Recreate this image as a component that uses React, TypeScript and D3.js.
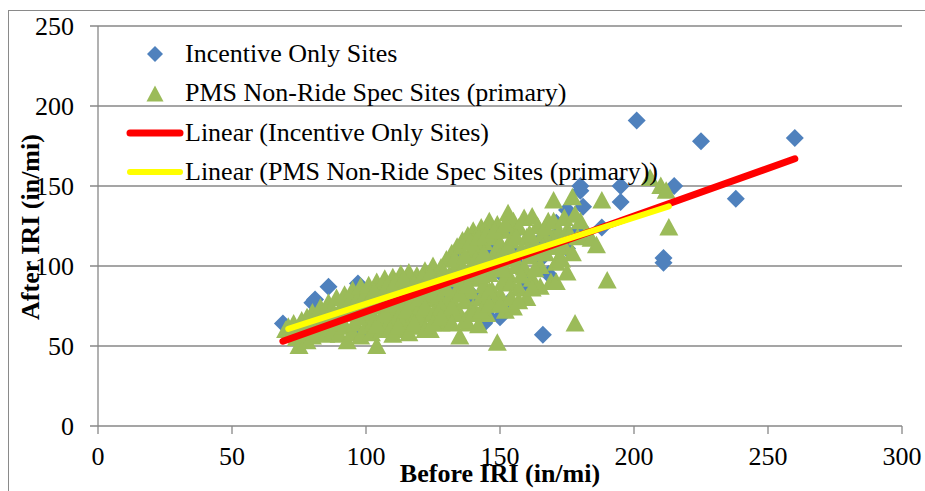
import React from "react";
import * as d3 from "d3";

// Before IRI / After IRI (in/mi)
const incentiveSites: [number, number][] = [
  [69, 64], [80, 77], [81, 79], [86, 87], [97, 89], [97, 57], [100, 72], [105, 80], [108, 66],
  [112, 85], [115, 75], [117, 72], [118, 90], [120, 70], [122, 82], [125, 95], [127, 66],
  [128, 78], [130, 68], [131, 72], [132, 88], [134, 104], [135, 97], [138, 92], [139, 83],
  [140, 79], [142, 100], [143, 108], [144, 64], [145, 77], [145, 72], [146, 68], [146, 118],
  [147, 112], [148, 110], [150, 68], [150, 96], [153, 77], [154, 110], [154, 121], [155, 120],
  [157, 100], [160, 89], [160, 91], [162, 108], [165, 104], [165, 116], [166, 57], [168, 95],
  [170, 118], [171, 127], [175, 135], [175, 111], [179, 122], [180, 147], [180, 150],
  [181, 137], [180, 124], [188, 124], [195, 150], [195, 140], [201, 191], [211, 105],
  [211, 102], [215, 150], [225, 178], [238, 142], [260, 180],
];

const pmsSites: [number, number][] = [
  [70, 60], [71, 62], [72, 57], [73, 64], [74, 55], [75, 50], [75, 62], [76, 66], [77, 58],
  [78, 68], [78, 53], [79, 62], [80, 56], [80, 71], [81, 65], [82, 59], [83, 74], [84, 62],
  [84, 69], [85, 57], [86, 77], [87, 64], [87, 72], [88, 60], [89, 80], [90, 57], [90, 68],
  [91, 75], [92, 62], [92, 82], [93, 53], [93, 70], [94, 78], [95, 58], [95, 85], [96, 64],
  [96, 73], [97, 80], [98, 56], [98, 87], [99, 68], [99, 76], [100, 62], [100, 83], [101, 88],
  [102, 58], [102, 71], [103, 79], [103, 66], [104, 50], [104, 90], [105, 75], [105, 84],
  [106, 60], [106, 69], [107, 92], [108, 63], [108, 78], [109, 86], [109, 72], [110, 57],
  [110, 93], [111, 66], [111, 81], [112, 75], [112, 89], [113, 60], [113, 95], [114, 70],
  [114, 84], [115, 63], [115, 78], [116, 91], [116, 96], [117, 67], [117, 86], [118, 74],
  [118, 80], [119, 62], [119, 94], [120, 70], [120, 88], [121, 77], [121, 65], [122, 83],
  [122, 97], [123, 72], [123, 91], [124, 60], [124, 79], [125, 86], [125, 100], [126, 68],
  [126, 94], [127, 75], [127, 82], [128, 64], [128, 99], [129, 88], [130, 72], [130, 104],
  [131, 66], [131, 80], [132, 92], [132, 108], [133, 76], [133, 98], [134, 85], [134, 112],
  [135, 56], [135, 70], [135, 102], [136, 90], [136, 116], [137, 78], [138, 64], [138, 96],
  [138, 119], [139, 84], [139, 108], [140, 74], [140, 122], [141, 92], [141, 112], [142, 63],
  [142, 100], [143, 80], [143, 124], [144, 88], [144, 115], [145, 70], [145, 104], [146, 128],
  [146, 95], [147, 85], [147, 118], [148, 76], [148, 108], [149, 52], [149, 126], [149, 98],
  [150, 82], [150, 114], [151, 90], [151, 122], [152, 72], [152, 104], [153, 133], [153, 95],
  [154, 89], [154, 116], [155, 74], [155, 128], [156, 100], [157, 124], [157, 86], [158, 110],
  [159, 99], [159, 130], [160, 80], [160, 118], [161, 106], [162, 131], [162, 92], [163, 114],
  [164, 125], [165, 87], [165, 100], [166, 120], [167, 108], [168, 128], [169, 90], [170, 141],
  [170, 118], [171, 102], [171, 90], [172, 121], [172, 105], [173, 104], [174, 112], [175, 122],
  [175, 96], [177, 143], [177, 108], [178, 64], [179, 118], [180, 128], [182, 120], [184, 117],
  [186, 113], [188, 141], [190, 91], [206, 155], [210, 150], [212, 147], [213, 124],
  [88, 70], [91, 66], [94, 72], [97, 68], [100, 74], [101, 78], [103, 84], [104, 63], [106, 80],
  [107, 70], [108, 88], [110, 76], [111, 90], [112, 68], [113, 84], [114, 92], [115, 72],
  [116, 82], [117, 78], [118, 89], [119, 70], [120, 80], [121, 93], [122, 74], [123, 85],
  [124, 95], [125, 70], [126, 84], [127, 92], [128, 74], [129, 96], [130, 86], [131, 94],
  [132, 74], [133, 104], [134, 92], [135, 82], [136, 98], [137, 106], [138, 88], [139, 115],
  [140, 98], [141, 104], [142, 118], [143, 94], [144, 108], [145, 120], [146, 84], [147, 102],
  [148, 122], [150, 106], [151, 98], [152, 126], [153, 112], [155, 106], [156, 118], [158, 94],
  [160, 110], [161, 120], [163, 98], [164, 108], [166, 112], [167, 124], [169, 112], [170, 128],
  [172, 112], [174, 130], [176, 120], [178, 132], [109, 60], [112, 62], [116, 58], [118, 64],
  [122, 60], [125, 64], [128, 68], [132, 64], [137, 66], [140, 70], [143, 72], [146, 76],
  [150, 76], [154, 80], [157, 78], [162, 86],
];

// linear trend lines: [slope, intercept, xStart, xEnd]
const incentiveTrend = [0.597, 11.8, 69, 260];
const pmsTrend = [0.54, 22.3, 71, 213];

const xTicks = [0, 50, 100, 150, 200, 250, 300];
const yTicks = [0, 50, 100, 150, 200, 250];

const legendLabels = [
  "Incentive Only Sites",
  "PMS Non-Ride Spec Sites (primary)",
  "Linear (Incentive Only Sites)",
  "Linear (PMS Non-Ride Spec Sites (primary))",
];

const BLUE = "#4F81BD";
const GREEN = "#9BBB59";
const RED = "#FF0000";
const YELLOW = "#FFFF00";
const GRID = "#878787";
const serif: React.CSSProperties = { fontFamily: "'Liberation Serif', 'Times New Roman', serif" };

const diamond = "M0,-9L9,0L0,9L-9,0Z";
const triangle = "M0,-9.5L9.5,8L-9.5,8Z";

const App = (): React.JSX.Element => {
  const width = 925;
  const height = 491;
  const x = d3.scaleLinear([0, 300], [98, 902]);
  const y = d3.scaleLinear([0, 250], [426, 26]);

  const trendLine = (t: number[]) => {
    const pts: [number, number][] = [t[2], t[3]].map((v) => [v, t[0] * v + t[1]]);
    return d3.line<[number, number]>((d) => x(d[0]), (d) => y(d[1]))(pts) as string;
  };

  return (
    <svg width={width} height={height} style={{ position: "absolute", left: 0, top: 0 }}>
      <rect x={0} y={0} width={width} height={height} fill="white" />
      <rect x={8.5} y={10.5} width={width + 20} height={height + 20} fill="none" stroke="#8a8a8a" strokeWidth={1} />

      {/* gridlines */}
      {yTicks.map((t) => (
        <line key={"g" + t} x1={x(0) - 8} x2={x(300)} y1={y(t)} y2={y(t)} stroke={GRID} strokeWidth={1.3} />
      ))}
      <line x1={x(0)} x2={x(0)} y1={y(250)} y2={y(0)} stroke={GRID} strokeWidth={1.3} />
      {xTicks.map((t) => (
        <line key={"xt" + t} x1={x(t)} x2={x(t)} y1={y(0)} y2={y(0) + 8} stroke={GRID} strokeWidth={1.3} />
      ))}

      {/* tick labels */}
      <g fontSize={26} fill="#000" style={serif}>
        {yTicks.map((t) => (
          <text key={"yl" + t} x={74} y={y(t) + 9} textAnchor="end">{t}</text>
        ))}
        {xTicks.map((t) => (
          <text key={"xl" + t} x={x(t)} y={y(0) + 39} textAnchor="middle">{t}</text>
        ))}
      </g>

      {/* series */}
      <g fill={BLUE}>
        {incentiveSites.map((d, i) => (
          <path key={"b" + i} d={diamond} transform={`translate(${x(d[0])},${y(d[1])})`} />
        ))}
      </g>
      <g fill={GREEN}>
        {pmsSites.map((d, i) => (
          <path key={"t" + i} d={triangle} transform={`translate(${x(d[0])},${y(d[1])})`} />
        ))}
      </g>
      <path d={trendLine(incentiveTrend)} stroke={RED} strokeWidth={7} strokeLinecap="round" fill="none" />
      <path d={trendLine(pmsTrend)} stroke={YELLOW} strokeWidth={6} strokeLinecap="round" fill="none" />

      {/* legend */}
      <g fontSize={26} fill="#000" style={serif}>
        <path d="M0,-8L8,0L0,8L-8,0Z" fill={BLUE} transform="translate(155,54)" />
        <path d="M0,-8.5L8.5,7.5L-8.5,7.5Z" fill={GREEN} transform="translate(155,94)" />
        <line x1={130} x2={180} y1={133} y2={133} stroke={RED} strokeWidth={7} strokeLinecap="round" />
        <line x1={130} x2={180} y1={172} y2={172} stroke={YELLOW} strokeWidth={6} strokeLinecap="round" />
        {legendLabels.map((l, i) => (
          <text key={l} x={185} y={62 + i * 39.3}>{l}</text>
        ))}
      </g>

      {/* axis titles */}
      <g fontSize={26} fontWeight="bold" style={serif}>
        <text x={500} y={482} textAnchor="middle">Before IRI (in/mi)</text>
        <text transform="translate(39,227) rotate(-90)" textAnchor="middle">After IRI (in/mi)</text>
      </g>
    </svg>
  );
};

export default App;
